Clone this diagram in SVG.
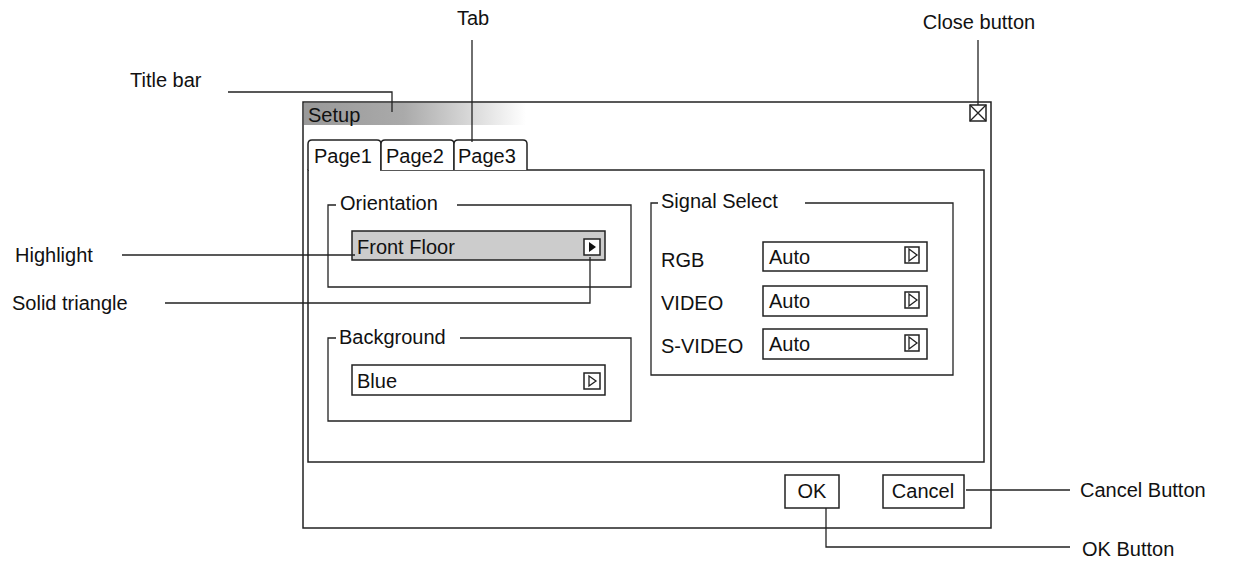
<svg xmlns="http://www.w3.org/2000/svg" width="1242" height="565" viewBox="0 0 1242 565">
<defs>
<linearGradient id="tg" x1="0" x2="1" y1="0" y2="0">
<stop offset="0" stop-color="#999"/><stop offset="0.45" stop-color="#aaa"/><stop offset="1" stop-color="#fff"/>
</linearGradient>
<style>
text{font-family:"Liberation Sans",Arial,sans-serif;font-size:20px;fill:#111}
.b{fill:#fff;stroke:#222;stroke-width:1.5}
.l{fill:none;stroke:#222;stroke-width:1.3}
</style>
</defs>
<g id="window">
<rect class="b" x="303" y="102" width="688" height="426"/>
<rect x="304" y="103" width="222" height="22" fill="url(#tg)"/>
<text x="308" y="122">Setup</text>
<rect class="b" x="970" y="105" width="16" height="16"/>
<path class="l" d="M970 105L986 121M986 105L970 121"/>
</g>
<g id="panel">
<rect class="b" x="308" y="170" width="676" height="292"/>
<path class="b" d="M308 170V144q0-4 4-4h65q4 0 4 4v26"/>
<path class="b" d="M381 170V144q0-4 4-4h65q4 0 4 4v26"/>
<path class="b" d="M454 170V144q0-4 4-4h65q4 0 4 4v26"/>
<line x1="309" y1="170" x2="380" y2="170" stroke="#fff" stroke-width="2"/>
<text x="314" y="163">Page1</text><text x="386" y="163">Page2</text><text x="458" y="163">Page3</text>
</g>
<g id="orientation">
<path class="l" d="M336 205h-8v82h303v-82h-174"/>
<text x="340" y="210">Orientation</text>
<rect x="352" y="231" width="253" height="29" fill="#ccc" stroke="#222" stroke-width="1.5"/>
<text x="357" y="254">Front Floor</text>
<rect class="b" x="584" y="239" width="16" height="16"/>
<path d="M589 242l7 5-7 5z" fill="#111"/>
</g>
<g id="background">
<path class="l" d="M336 338h-8v83h303v-83h-171"/>
<text x="339" y="344">Background</text>
<rect class="b" x="352" y="365" width="253" height="30"/>
<text x="357" y="388">Blue</text>
<rect class="b" x="584" y="373" width="16" height="16"/>
<path class="l" d="M589 376l7 5-7 5z"/>
</g>
<g id="signal">
<path class="l" d="M658 203h-7v172h302v-172h-148"/>
<text x="661" y="208">Signal Select</text>
<text x="661" y="267">RGB</text>
<text x="661" y="310">VIDEO</text>
<text x="661" y="353">S-VIDEO</text>
<rect class="b" x="763" y="242" width="164" height="29"/>
<text x="769" y="264">Auto</text>
<rect class="b" x="905" y="247" width="14" height="16"/><path class="l" d="M909 249l8 6-8 6z"/>
<rect class="b" x="763" y="286" width="164" height="30"/>
<text x="769" y="308">Auto</text>
<rect class="b" x="905" y="292" width="14" height="16"/><path class="l" d="M909 294l8 6-8 6z"/>
<rect class="b" x="763" y="329" width="164" height="30"/>
<text x="769" y="351">Auto</text>
<rect class="b" x="905" y="335" width="14" height="16"/><path class="l" d="M909 337l8 6-8 6z"/>
</g>
<g id="buttons">
<rect class="b" x="785" y="475" width="54" height="33"/>
<text x="812" y="498" text-anchor="middle">OK</text>
<rect class="b" x="883" y="475" width="81" height="33"/>
<text x="923" y="498" text-anchor="middle">Cancel</text>
</g>
<g id="connectors">
<path class="l" d="M228 92H392V112"/>
<path class="l" d="M472 40V142"/>
<path class="l" d="M978 40V105"/>
<path class="l" d="M122 255H355"/>
<path class="l" d="M165 303H590V257"/>
<path class="l" d="M966 490H1070"/>
<path class="l" d="M826 508V547H1070"/>
</g>
<g id="labels">
<text x="130" y="87">Title bar</text>
<text x="473" y="25" text-anchor="middle">Tab</text>
<text x="979" y="29" text-anchor="middle">Close button</text>
<text x="15" y="262">Highlight</text>
<text x="12" y="310">Solid triangle</text>
<text x="1080" y="497">Cancel Button</text>
<text x="1082" y="556">OK Button</text>
</g>
</svg>
